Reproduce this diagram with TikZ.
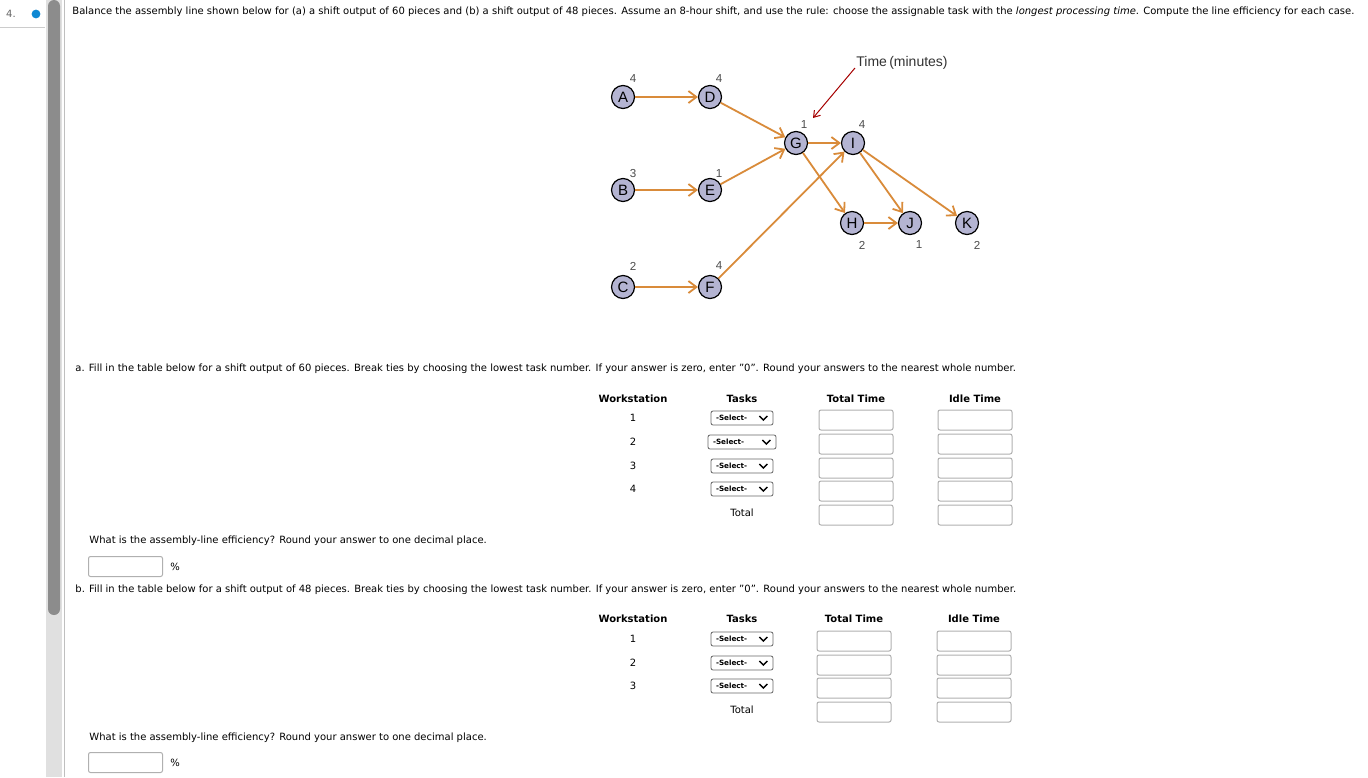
\documentclass[tikz,border=0pt]{standalone}
\usepackage{fontspec}
\setmainfont{DejaVu Sans}
\setsansfont{Liberation Sans}
\usetikzlibrary{arrows.meta}
\definecolor{arr}{HTML}{D98B3A}
\definecolor{nodefill}{HTML}{B4B4D2}
\definecolor{boxline}{HTML}{B0B0B0}
\tikzset{
 tk/.style={circle,draw=black,line width=0.6pt,fill=nodefill,minimum size=11.5pt,inner sep=0pt,font=\sffamily\fontsize{7.5}{8}\selectfont},
 wt/.style={font=\sffamily\fontsize{5.8}{6}\selectfont,text=black!70,inner sep=0pt},
 ed/.style={draw=arr,line width=0.9pt,-{Straight Barb[length=4pt,width=6pt]}},
 txt/.style={anchor=west,inner sep=0pt,font=\fontsize{5}{6}\selectfont},
 hd/.style={inner sep=0pt,font=\bfseries\fontsize{5}{6}\selectfont},
 num/.style={inner sep=0pt,font=\fontsize{5}{6}\selectfont},
 sel/.style={draw=black!60,rounded corners=1pt,minimum width=31pt,minimum height=7pt,inner sep=0pt,line width=0.4pt},
 inbox/.style={draw=boxline,rounded corners=1pt,minimum width=37pt,minimum height=10pt,inner sep=0pt,line width=0.5pt}
}
\newcommand{\selbox}[3]{\node[sel,minimum width=#3] (#1) at #2 {};
 \node[inner sep=0pt,font=\bfseries\fontsize{3.6}{4}\selectfont,anchor=west] at ([xshift=2.5pt]#1.west) {-Select-};
 \draw[line width=0.7pt] ([xshift=-7pt,yshift=1pt]#1.east) -- ([xshift=-5pt,yshift=-1pt]#1.east) -- ([xshift=-3pt,yshift=1pt]#1.east);}
\newcommand{\zq}{\char34 0\char34}
\begin{document}
\begin{tikzpicture}[x=0.5pt,y=-0.5pt]
\useasboundingbox[fill=white] (0,0) rectangle (1368,777);
\node[num,font=\fontsize{5}{6}\selectfont,text=black!60] (q) at (11,14) {4.};
\fill[cyan!70!blue] (36,14) circle (2.2pt);
\draw[black!20] (0,27) -- (45,27);
\fill[black!12] (46,0) rectangle (62,777);
\fill[black!45,rounded corners=3pt] (48,0) rectangle (60,615);
\draw[black!25] (64,0) -- (64,777);
\node[txt] (title) at (72,12) {Balance the assembly line shown below for (a) a shift output of 60 pieces and (b) a shift output of 48 pieces. Assume an 8-hour shift, and use the rule: choose the assignable task with the \textit{longest processing time}. Compute the line efficiency for each case.};
\node[tk] (A) at (623,97) {A};
\node[tk] (D) at (710,97) {D};
\node[tk] (B) at (623,190) {B};
\node[tk] (E) at (710,190) {E};
\node[tk] (C) at (623,287) {C};
\node[tk] (F) at (710,287) {F};
\node[tk] (G) at (796,143) {G};
\node[tk] (I) at (853,143) {I};
\node[tk] (H) at (852,223) {H};
\node[tk] (J) at (910,223) {J};
\node[tk] (K) at (967,223) {K};
\node[wt] at (633,79) {4};
\node[wt] at (719,79) {4};
\node[wt] at (633,174) {3};
\node[wt] at (719,174) {1};
\node[wt] at (633,266) {2};
\node[wt] at (719,266) {4};
\node[wt] at (804,125) {1};
\node[wt] at (862,125) {4};
\node[wt] at (862,245) {2};
\node[wt] at (919,245) {1};
\node[wt] at (977,245) {2};
\draw[ed] (A) -- (D);
\draw[ed] (B) -- (E);
\draw[ed] (C) -- (F);
\draw[ed] (D) -- (G);
\draw[ed] (E) -- (G);
\draw[ed] (F) -- (I);
\draw[ed] (G) -- (I);
\draw[ed] (G) -- (H);
\draw[ed] (H) -- (J);
\draw[ed] (I) -- (J);
\draw[ed] (I) -- (K);
\node[inner sep=0pt,font=\sffamily\fontsize{7}{8}\selectfont,text=black!80] (tm) at (902,63) {Time\,(minutes)};
\coordinate (tmend) at (813,118);
\draw[draw=red!65!black,line width=0.5pt,-{Straight Barb[length=3pt,width=4pt]}] (tm.west) ++(-1,5) -- (tmend);
\node[txt] (pa) at (75,369) {a. Fill in the table below for a shift output of 60 pieces. Break ties by choosing the lowest task number. If your answer is zero, enter \zq. Round your answers to the nearest whole number.};
\node[hd] (ha1) at (633,399) {Workstation};
\node[hd] (ha2) at (742,399) {Tasks};
\node[hd] (ha3) at (856,399) {Total Time};
\node[hd] (ha4) at (975,399) {Idle Time};
\foreach \r/\y/\w in {1/418/31pt,2/442/34pt,3/466/31pt,4/489/31pt}{
 \node[num] (wa\r) at (633,\y) {\r};
 \selbox{sa\r}{(742,\y)}{\w}
 \node[inbox] (ta\r) at (856,\y+2) {};
 \node[inbox] (ia\r) at (975,\y+2) {};
}
\node[num] (tota) at (742,513) {Total};
\node[inbox] (ta5) at (856,515) {};
\node[inbox] (ia5) at (975,515) {};
\node[txt] (ea) at (89,541) {What is the assembly-line efficiency? Round your answer to one decimal place.};
\node[inbox,anchor=north west] (eba) at (88,556) {};
\node[num] at (175,567) {\%};
\node[txt] (pb) at (75,590) {b. Fill in the table below for a shift output of 48 pieces. Break ties by choosing the lowest task number. If your answer is zero, enter \zq. Round your answers to the nearest whole number.};
\node[hd] (hb1) at (633,619) {Workstation};
\node[hd] (hb2) at (742,619) {Tasks};
\node[hd] (hb3) at (854,619) {Total Time};
\node[hd] (hb4) at (974,619) {Idle Time};
\foreach \r/\y in {1/639,2/663,3/686}{
 \node[num] (wb\r) at (633,\y) {\r};
 \selbox{sb\r}{(742,\y)}{31pt}
 \node[inbox] (tb\r) at (854,\y+2) {};
 \node[inbox] (ib\r) at (974,\y+2) {};
}
\node[num] (totb) at (742,710) {Total};
\node[inbox] (tb4) at (854,712) {};
\node[inbox] (ib4) at (974,712) {};
\node[txt] (eb) at (89,738) {What is the assembly-line efficiency? Round your answer to one decimal place.};
\node[inbox,anchor=north west] (ebb) at (88,752) {};
\node[num] at (175,763) {\%};
\end{tikzpicture}
\end{document}
